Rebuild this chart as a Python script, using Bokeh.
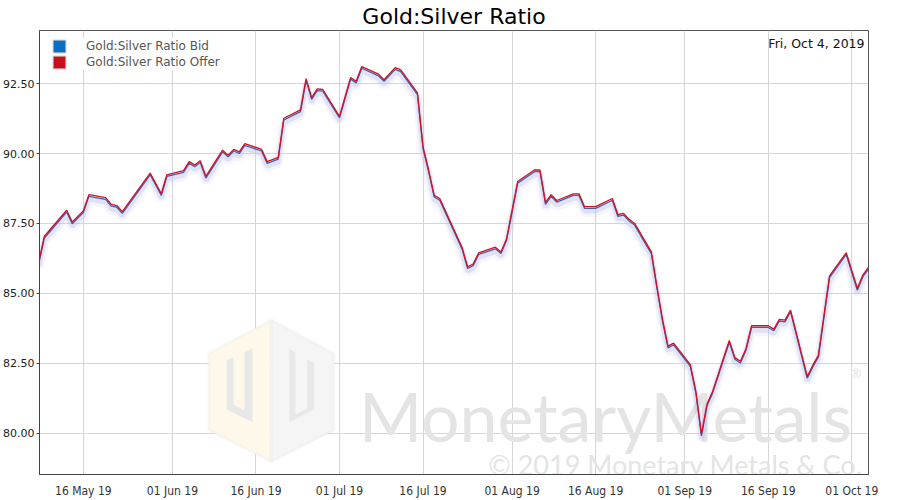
from datetime import datetime
import pandas as pd
from bokeh.plotting import figure
from bokeh.models import (Range1d, DaysTicker, DatetimeTickFormatter, FixedTicker,
                          PrintfTickFormatter, Legend, LegendItem, Label,
                          PolyAnnotation, ColumnDataSource)
from bokeh.transform import dodge
from bokeh.embed import file_html
from bokeh.resources import INLINE

# ---------------- data ----------------
dates = ["2019-05-08", "2019-05-09", "2019-05-13", "2019-05-14", "2019-05-16", "2019-05-17",
         "2019-05-20", "2019-05-21", "2019-05-22", "2019-05-23", "2019-05-28", "2019-05-30",
         "2019-05-31", "2019-06-03", "2019-06-04", "2019-06-05", "2019-06-06", "2019-06-07",
         "2019-06-10", "2019-06-11", "2019-06-12", "2019-06-13", "2019-06-14", "2019-06-17",
         "2019-06-18", "2019-06-20", "2019-06-21", "2019-06-24", "2019-06-25", "2019-06-26",
         "2019-06-27", "2019-06-28", "2019-07-01", "2019-07-03", "2019-07-04", "2019-07-05",
         "2019-07-08", "2019-07-09", "2019-07-11", "2019-07-12", "2019-07-15", "2019-07-16",
         "2019-07-17", "2019-07-18", "2019-07-19", "2019-07-23", "2019-07-24", "2019-07-25",
         "2019-07-26", "2019-07-29", "2019-07-30", "2019-07-31", "2019-08-02", "2019-08-05",
         "2019-08-06", "2019-08-07", "2019-08-08", "2019-08-09", "2019-08-12", "2019-08-13",
         "2019-08-14", "2019-08-16", "2019-08-19", "2019-08-20", "2019-08-21", "2019-08-22",
         "2019-08-23", "2019-08-26", "2019-08-27", "2019-08-28", "2019-08-29", "2019-08-30",
         "2019-09-02", "2019-09-03", "2019-09-04", "2019-09-05", "2019-09-06", "2019-09-09",
         "2019-09-10", "2019-09-11", "2019-09-12", "2019-09-13", "2019-09-16", "2019-09-17",
         "2019-09-18", "2019-09-19", "2019-09-20", "2019-09-23", "2019-09-24", "2019-09-25",
         "2019-09-27", "2019-09-30", "2019-10-02", "2019-10-03", "2019-10-04"]

offer = [86.13, 87.04, 87.97, 87.55, 87.95, 88.53,
         88.42, 88.18, 88.14, 87.92, 89.30, 88.56,
         89.24, 89.39, 89.71, 89.59, 89.74, 89.18,
         90.12, 89.94, 90.15, 90.06, 90.35, 90.15,
         89.71, 89.86, 91.26, 91.56, 92.68, 92.00,
         92.31, 92.29, 91.33, 92.72, 92.58, 93.11,
         92.84, 92.64, 93.07, 92.99, 92.17, 90.24,
         89.41, 88.51, 88.39, 86.65, 85.95, 86.05,
         86.45, 86.65, 86.48, 86.95, 89.00, 89.41,
         89.41, 88.24, 88.53, 88.32, 88.56, 88.56,
         88.10, 88.10, 88.39, 87.81, 87.86, 87.65,
         87.50, 86.48, 85.25, 84.07, 83.11, 83.22,
         82.45, 81.49, 79.96, 81.04, 81.49, 83.31,
         82.70, 82.57, 83.02, 83.84, 83.84, 83.72,
         84.07, 84.04, 84.40, 82.02, 82.43, 82.78,
         85.62, 86.45, 85.17, 85.66, 85.93]

bid = [86.07, 86.98, 87.91, 87.49, 87.89, 88.47,
       88.36, 88.12, 88.08, 87.86, 89.24, 88.50,
       89.18, 89.33, 89.65, 89.53, 89.68, 89.12,
       90.06, 89.88, 90.09, 90.00, 90.29, 90.09,
       89.65, 89.80, 91.20, 91.50, 92.62, 91.94,
       92.25, 92.23, 91.27, 92.66, 92.52, 93.05,
       92.78, 92.58, 93.01, 92.93, 92.11, 90.18,
       89.35, 88.45, 88.33, 86.59, 85.89, 85.99,
       86.39, 86.59, 86.42, 86.89, 88.94, 89.35,
       89.35, 88.18, 88.47, 88.26, 88.50, 88.50,
       88.04, 88.04, 88.33, 87.75, 87.80, 87.59,
       87.44, 86.42, 85.19, 84.01, 83.05, 83.16,
       82.39, 81.43, 79.90, 80.98, 81.43, 83.25,
       82.64, 82.51, 82.96, 83.78, 83.78, 83.66,
       84.01, 83.98, 84.34, 81.96, 82.37, 82.72,
       85.56, 86.39, 85.11, 85.60, 85.87]

y_ticks = [80.0, 82.5, 85.0, 87.5, 90.0, 92.5]
series_names = ["Gold:Silver Ratio Bid", "Gold:Silver Ratio Offer"]
title_text = "Gold:Silver Ratio"
date_text = "Fri, Oct 4, 2019"

# ---------------- figure ----------------
FW, FH = 829, 444
REF_W, REF_H = 833.0, 451.0
src = ColumnDataSource(dict(date=pd.to_datetime(dates), bid=bid, offer=offer))

p = figure(frame_width=FW, frame_height=FH, x_axis_type="datetime",
           x_range=Range1d(datetime(2019, 5, 8, 3), datetime(2019, 10, 4)),
           y_range=Range1d(78.52, 94.4),
           output_backend="svg", toolbar_location=None,
           min_border_left=39, min_border_right=30, min_border_top=30, min_border_bottom=24,
           background_fill_color="white", border_fill_color="white")

p.title.text = title_text
p.title.align = "center"
p.title.text_font = "DejaVu Sans"
p.title.text_font_size = "22px"
p.title.text_font_style = "normal"
p.title.text_color = "#000000"
p.title.standoff = 3

p.outline_line_color = "#555555"
p.outline_line_width = 1

p.xgrid.grid_line_color = "#d6d6d6"
p.ygrid.grid_line_color = "#d6d6d6"

p.xaxis.ticker = DaysTicker(days=[1, 16])
p.xaxis.formatter = DatetimeTickFormatter(days="%d %b %y", months="%d %b %y")
p.xaxis.major_label_text_font = "DejaVu Sans Condensed"
p.xaxis.major_label_text_font_size = "12px"
p.xaxis.major_label_text_color = "#333333"
p.xaxis.major_tick_line_color = None
p.xaxis.minor_tick_line_color = None
p.xaxis.axis_line_color = "#444444"
p.xaxis.major_label_standoff = 3

p.yaxis.ticker = FixedTicker(ticks=y_ticks)
p.yaxis.formatter = PrintfTickFormatter(format="%.2f")
p.yaxis.major_label_text_font = "DejaVu Sans"
p.yaxis.major_label_text_font_size = "11px"
p.yaxis.major_label_text_color = "#222222"
p.yaxis.major_tick_out = 3
p.yaxis.major_tick_in = 0
p.yaxis.major_tick_line_color = "#444444"
p.yaxis.minor_tick_line_color = None
p.yaxis.axis_line_color = "#444444"
p.yaxis.major_label_standoff = 2

# ---------------- watermark (reference pixel -> frame screen units) ----------------
def fx(X):
    return (X - 37) * FW / REF_W

def fy(Y):
    return (481 - Y) * FH / REF_H

hex_left = [(270, 324), (270, 440), (270, 468), (207, 436), (207, 358)]
hex_right = [(270, 324), (333, 358), (333, 436), (270, 468), (270, 440)]
for pts, col in [(hex_left, "#fdf8ea"), (hex_right, "#f5f5f5")]:
    p.add_layout(PolyAnnotation(xs=[fx(a) for a, b in pts], ys=[fy(b) for a, b in pts],
                                xs_units="screen", ys_units="screen",
                                fill_color=col, fill_alpha=1.0,
                                line_color="#e9e9e9", line_width=3, level="underlay"))
u_left = [(225, 365), (232, 362), (232, 410), (243, 416), (243, 357), (251, 353), (251, 428), (225, 415)]
u_right = [(288, 353), (294, 357), (294, 420), (306, 414), (306, 364), (313, 368), (313, 415), (288, 428)]
for pts in [u_left, u_right]:
    p.add_layout(PolyAnnotation(xs=[fx(a) for a, b in pts], ys=[fy(b) for a, b in pts],
                                xs_units="screen", ys_units="screen",
                                fill_color="#e8e8e8", fill_alpha=1.0,
                                line_color=None, level="underlay"))

p.add_layout(Label(x=fx(358), y=fy(421), x_units="screen", y_units="screen",
                   text="MonetaryMetals", text_font="Lato", text_font_size="68px",
                   text_color="#e4e4e4", text_baseline="alphabetic", level="underlay"))
p.add_layout(Label(x=fx(852), y=fy(378), x_units="screen", y_units="screen",
                   text="®", text_font="Lato", text_font_size="13px",
                   text_color="#e2e2e2", text_baseline="alphabetic", level="underlay"))
p.add_layout(Label(x=fx(488), y=fy(471), x_units="screen", y_units="screen",
                   text="© 2019 Monetary Metals & Co.", text_font="Lato", text_font_size="27px",
                   text_color="#e4e4e4", text_baseline="alphabetic", level="underlay"))

# ---------------- lines ----------------
p.line("date", dodge("bid", -0.15), source=src, line_color="#cacaec", line_width=9, line_alpha=0.18)
p.line("date", dodge("bid", -0.10), source=src, line_color="#bcbce4", line_width=5, line_alpha=0.35)
p.line("date", "bid", source=src, line_color="#3a62b4", line_width=1.3)
p.line("date", "offer", source=src, line_color="#d41020", line_width=1.3)

# legend swatches (glyphs with a single NaN entry, nothing drawn in the plot)
nan = float("nan")
sw_b = p.quad(left=[nan], right=[nan], top=[nan], bottom=[nan],
              fill_color="#0a6fc2", line_color="#c8c8c8")
sw_o = p.quad(left=[nan], right=[nan], top=[nan], bottom=[nan],
              fill_color="#c8101a", line_color="#c8c8c8")
legend = Legend(items=[LegendItem(label=series_names[0], renderers=[sw_b]),
                       LegendItem(label=series_names[1], renderers=[sw_o])],
                location=(12, FH - 4 - 36), border_line_color=None,
                background_fill_color="white", background_fill_alpha=1.0,
                label_text_font="DejaVu Sans", label_text_font_size="12px",
                label_text_color="#555555", glyph_width=16, glyph_height=16,
                label_height=16, spacing=0, padding=2, margin=0, label_standoff=19)
p.add_layout(legend)

p.add_layout(Label(x=FW - 4, y=FH - 13, x_units="screen", y_units="screen",
                   text=date_text, text_font="DejaVu Sans", text_font_size="12.5px",
                   text_color="#111111", text_align="right", text_baseline="middle"))

open("out.html", "w").write(file_html(p, INLINE))
